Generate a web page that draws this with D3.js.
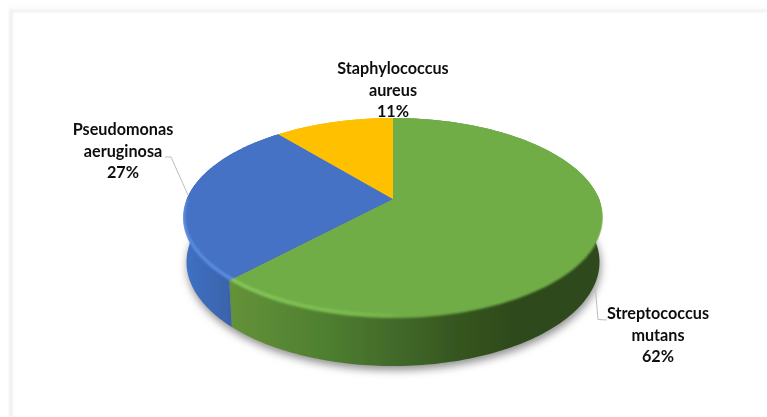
<!DOCTYPE html>
<html><head><meta charset="utf-8">
<script src="https://cdnjs.cloudflare.com/ajax/libs/d3/7.8.5/d3.min.js"></script>
<style>html,body{margin:0;padding:0;background:#fff}svg{display:block}</style></head>
<body><svg id="c" width="767" height="417"></svg>
<script>
const categories = ["Streptococcus mutans", "Pseudomonas aeruginosa", "Staphylococcus aureus"];
const values = [62, 27, 11];
const colors = ["#70ad47", "#4472c4", "#ffc000"];
const labelLines = [["Streptococcus","mutans","62%"],["Pseudomonas","aeruginosa","27%"],["Staphylococcus","aureus","11%"]];

const svg = d3.select("#c");
const cx = 393, cy = 218, rx = 210, ry = 100, tilt = 0.19;
const cyB = 262, rxB = 206.5, ryB = 104;

// perspective of the disc: maps a disc angle and radius to the unit ellipse
function disc(theta, r) {
  const X = r * Math.sin(theta), Y = r * Math.cos(theta);
  const d = 1 + tilt * Y;
  return [Math.sqrt(1 - tilt * tilt) * X / d, (Y + tilt) / d];
}
const topPt = (t, r = 1) => { const p = disc(t, r); return [cx + rx * p[0], cy - ry * p[1]]; };
const botPt = t => { const p = disc(t, 1); return [cx + rxB * p[0], cyB - ryB * p[1]]; };
// radius pulled in along the front of the disc only
const frontR = (t, amount) => 1 - amount * Math.max(0, -Math.cos(t));
const frontPt = amount => t => topPt(t, frontR(t, amount));

const arcs = d3.pie().sort(null).value(d => d)(values);
const line = d3.line();
const sample = (a, b, f) => d3.range(0, 121).map(i => f(a + (b - a) * i / 120));
const pi = Math.PI;

const defs = svg.append("defs");
const blur = (id, s) => defs.append("filter").attr("id", id).attr("filterUnits", "userSpaceOnUse")
  .attr("x", 0).attr("y", 0).attr("width", 767).attr("height", 417)
  .append("feGaussianBlur").attr("stdDeviation", s);
blur("shadow", 4.5); blur("soft", 0.45); blur("edge", 1.3); blur("bevel", 1.3); blur("txt", 0.35); blur("frameBlur", 0.8);

const grad = (id, x1, x2, stops) => {
  const g = defs.append("linearGradient").attr("id", id).attr("gradientUnits", "userSpaceOnUse")
    .attr("x1", x1).attr("x2", x2).attr("y1", 0).attr("y2", 0);
  stops.forEach(s => g.append("stop").attr("offset", s[0]).attr("stop-color", s[1]).attr("stop-opacity", s[2] === undefined ? 1 : s[2]));
};
grad("sideGreen", 229, 600, [[0, "#64923a"], [0.25, "#4f8030"], [0.45, "#42692a"], [0.62, "#35551f"], [0.78, "#2e491b"], [1, "#2e491b"]]);
grad("sideBlue", 185, 232, [[0, "#3f70c4"], [1, "#3a63a9"]]);
grad("rimGreen", 229, 440, [[0, "#8fd060", 0.9], [0.55, "#86c658", 0.7], [1, "#86c658", 0]]);
grad("rimBlue", 183, 232, [[0, "#6096e8", 0.9], [1, "#6096e8", 0.9]]);

const sideBand = (s, e, inner) => line([topPt(s)].concat(sample(s, e, inner), [topPt(e)], sample(e, s, botPt))) + "Z";
const hull = defs.append("clipPath").attr("id", "hull");
hull.append("path").attr("d", line(sample(0, 2 * pi, topPt)) + "Z");
hull.append("path").attr("d", sideBand(pi / 2, 1.5 * pi, topPt));

// frame
const frame = svg.append("g").attr("filter", "url(#frameBlur)").attr("fill", "none");
frame.append("line").attr("x1", 9).attr("x2", 767).attr("y1", 11).attr("y2", 11).attr("stroke", "#e6e6e6").attr("stroke-width", 1.4);
frame.append("line").attr("x1", 9).attr("x2", 767).attr("y1", 7).attr("y2", 7).attr("stroke", "#fbfbfb").attr("stroke-width", 3);
frame.append("line").attr("x1", 11).attr("x2", 11).attr("y1", 11).attr("y2", 417).attr("stroke", "#eeeeee").attr("stroke-width", 3);

// ground shadow
svg.append("path")
  .attr("d", line(sample(0, 2 * pi, botPt).map(p => [p[0] + 1, p[1] + 4])) + "Z")
  .attr("fill", "#8c8c8c").attr("filter", "url(#shadow)");

const pie3d = svg.append("g").attr("filter", "url(#soft)");
const face = (a, f) => line([topPt(0, 0)].concat(sample(a.startAngle, a.endAngle, f))) + "Z";

// opaque base of the faces, pulled in along the front so the sides run beneath the soft edge
pie3d.selectAll("path.base").data(arcs).join("path").attr("class", "base")
  .attr("d", a => face(a, frontPt(0.08)))
  .attr("fill", (d, i) => colors[i]);

// sides, reaching a little under the faces
pie3d.selectAll("path.side").data(arcs.slice(0, 2)).join("path").attr("class", "side")
  .attr("d", a => sideBand(Math.max(a.startAngle, pi / 2), Math.min(a.endAngle, 1.5 * pi), frontPt(0.06)))
  .attr("fill", (d, i) => i === 0 ? "url(#sideGreen)" : "url(#sideBlue)");

// soft outer edge of the top faces, blending into the sides
pie3d.append("g").attr("clip-path", "url(#hull)").append("g").attr("filter", "url(#edge)")
  .selectAll("path").data(arcs).join("path")
  .attr("d", a => face(a, topPt))
  .attr("fill", (d, i) => colors[i]);

// sharp top faces
pie3d.selectAll("path.top").data(arcs).join("path").attr("class", "top")
  .attr("d", a => face(a, frontPt(0.02)))
  .attr("fill", (d, i) => colors[i]);

// rim highlight along the front edge
const rim = svg.append("g").attr("clip-path", "url(#hull)").append("g").attr("filter", "url(#bevel)").attr("fill", "none").attr("stroke-width", 2.6);
rim.append("path").attr("d", line(sample(pi, arcs[0].endAngle, frontPt(0.02))))
  .attr("stroke", "url(#rimGreen)");
rim.append("path").attr("d", line(sample(arcs[1].startAngle, 1.5 * pi, frontPt(0.02))))
  .attr("stroke", "url(#rimBlue)");

// leader lines
const leaders = [[[607, 320], [598, 319.5], [595, 285]], [[165, 157], [171, 157], [188, 195]]];
svg.append("g").selectAll("path").data(leaders).join("path")
  .attr("d", line).attr("fill", "none").attr("stroke", "#bdbdbd").attr("stroke-width", 1);

// labels
const labelPos = [[658, [315, 337, 358]], [123, [131, 153, 174]], [393, [70, 92, 113]]];
const labels = svg.append("g").attr("filter", "url(#txt)")
  .attr("font-family", "Lato, 'Open Sans', sans-serif").attr("font-weight", 700)
  .attr("font-size", 16.2).attr("fill", "#111").attr("text-anchor", "middle");
labelLines.forEach((ls, i) => ls.forEach((t, j) => {
  labels.append("text").attr("x", labelPos[i][0]).attr("y", labelPos[i][1][j])
    .attr("dominant-baseline", "middle").text(t);
}));
</script></body></html>
